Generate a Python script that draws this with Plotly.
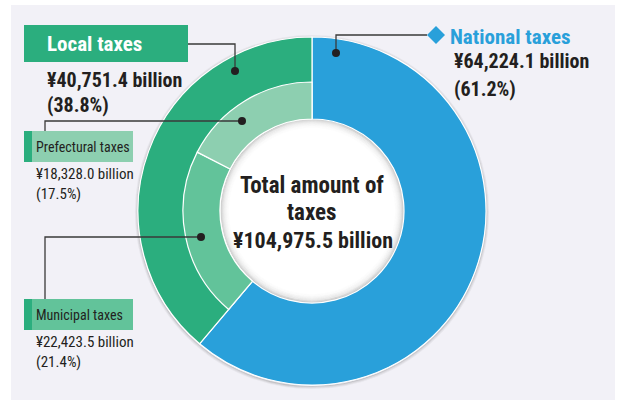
import plotly.graph_objects as go

# Tax revenue breakdown (billion yen)
national_name = "National taxes"
local_name = "Local taxes"
local_parts = ["Municipal taxes", "Prefectural taxes"]
center_lines = ["Total amount of", "taxes"]

national_value = 64224.1
local_value = 40751.4
local_part_values = [22423.5, 18328.0]
total_value = 104975.5

# Colours
BLUE = "#29a0da"
GREEN = "#2bae7e"
MUNI = "#62c39a"
PREF = "#8dcfb0"
PANEL = "#f2f1f7"
INK = "#231f20"
LINE = "#3a3a3a"

W, H = 617, 400
CX, CY = 312, 211          # donut centre (px)
R_OUT, R_MID, R_IN = 174, 129, 92

FONT = "Liberation Sans Narrow, Roboto Condensed, DejaVu Sans Condensed, Arial Narrow, sans-serif"


def money(v):
    return f"¥{v:,.1f} billion"


def pct(v):
    return f"({v / total_value * 100:.1f}%)"


def domain(r):
    return dict(x=[(CX - r) / W, (CX + r) / W], y=[1 - (CY + r) / H, 1 - (CY - r) / H])


fig = go.Figure()

# Outer ring: national taxes span the full ring width, local taxes sit on the outer band
fig.add_trace(go.Pie(
    values=[national_value, local_value],
    labels=[national_name, local_name],
    marker=dict(colors=[BLUE, GREEN], line=dict(color="white", width=1.2)),
    hole=R_IN / R_OUT, sort=False, direction="clockwise", rotation=0,
    textinfo="none", hoverinfo="skip", showlegend=False, domain=domain(R_OUT),
))

# Inner ring: breakdown of local taxes (national slot left transparent)
fig.add_trace(go.Pie(
    values=[national_value] + local_part_values,
    labels=[national_name] + local_parts,
    marker=dict(colors=["rgba(0,0,0,0)", MUNI, PREF],
                line=dict(color=["rgba(0,0,0,0)", "white", "white"], width=[0, 1.2, 1.2])),
    hole=R_IN / R_MID, sort=False, direction="clockwise", rotation=0,
    textinfo="none", hoverinfo="skip", showlegend=False, domain=domain(R_MID),
))

shapes = []
# panel background
shapes.append(dict(type="rect", x0=11, x1=615, y0=5, y1=400, fillcolor=PANEL, line_width=0, layer="below"))
# soft shadow around donut
for i, a in enumerate([0.22, 0.12, 0.06]):
    r = R_OUT + 0.5 + i
    shapes.append(dict(type="circle", x0=CX - r, x1=CX + r, y0=CY - r + 1, y1=CY + r + 1,
                       line=dict(color=f"rgba(60,60,60,{a})", width=1.2), layer="below"))
# white centre disk with inner shading
shapes.append(dict(type="circle", x0=CX - R_IN, x1=CX + R_IN, y0=CY - R_IN, y1=CY + R_IN,
                   fillcolor="white", line_width=0, layer="below"))
for i, a in enumerate([0.30, 0.22, 0.16, 0.11, 0.08, 0.055, 0.035, 0.02, 0.01]):
    r = R_IN - 0.5 - i
    shapes.append(dict(type="circle", x0=CX - r, x1=CX + r, y0=CY - r, y1=CY + r,
                       line=dict(color=f"rgba(90,90,90,{a})", width=1.2), layer="below"))

# label boxes
shapes.append(dict(type="rect", x0=24, x1=188, y0=25, y1=62, fillcolor=GREEN, line_width=0, layer="above"))
shapes.append(dict(type="rect", x0=24, x1=133, y0=131, y1=162, fillcolor=PREF, line_width=0, layer="above"))
shapes.append(dict(type="rect", x0=24, x1=32, y0=131, y1=162, fillcolor=GREEN, line_width=0, layer="above"))
shapes.append(dict(type="rect", x0=24, x1=133, y0=299, y1=330, fillcolor=MUNI, line_width=0, layer="above"))
shapes.append(dict(type="rect", x0=24, x1=32, y0=299, y1=330, fillcolor=GREEN, line_width=0, layer="above"))

# leader lines
leaders = [
    [(188, 44), (235, 44), (235, 71)],
    [(45, 131), (45, 121), (242, 121)],
    [(45, 299), (45, 237), (201, 237)],
    [(427, 35), (336, 35), (336, 53)],
]
for pts in leaders:
    path = "M " + " L ".join(f"{x},{y}" for x, y in pts)
    shapes.append(dict(type="path", path=path, line=dict(color=LINE, width=1.3), layer="above"))
for x, y in [(235, 71), (242, 121), (201, 237), (336, 53)]:
    shapes.append(dict(type="circle", x0=x - 4, x1=x + 4, y0=y - 4, y1=y + 4,
                       fillcolor=INK, line_width=0, layer="above"))
# blue diamond marker beside the national label
shapes.append(dict(type="path", path="M 436,26 L 445,35 L 436,44 L 427,35 Z",
                   fillcolor=BLUE, line_width=0, layer="above"))

ann = []


def text(x, y, s, size, color=INK, bold=False, xanchor="left", align="left"):
    ann.append(dict(x=x, y=y, xref="x", yref="y", text=f"<b>{s}</b>" if bold else s,
                    showarrow=False, xanchor=xanchor, yanchor="middle", align=align,
                    font=dict(family=FONT, size=size, color=color)))


text(45, 44, local_name, 21, "white", True)
text(45, 80, money(local_value), 20, INK, True)
text(45, 105, pct(local_value), 20, INK, True)

text(34, 147, local_parts[1], 14)
text(34, 174, money(local_part_values[1]), 15)
text(34, 194, pct(local_part_values[1]), 15)

text(34, 315, local_parts[0], 14)
text(34, 342, money(local_part_values[0]), 15)
text(34, 362, pct(local_part_values[0]), 15)

text(448, 37, national_name, 21, BLUE, True)
text(452, 61, money(national_value), 20, INK, True)
text(452, 89, pct(national_value), 20, INK, True)

text(CX, 185, center_lines[0], 23, INK, True, "center", "center")
text(CX, 212, center_lines[1], 23, INK, True, "center", "center")
text(CX + 1, 240, money(total_value), 22, INK, True, "center", "center")

fig.update_layout(
    width=W, height=H, margin=dict(l=0, r=0, t=0, b=0),
    paper_bgcolor="white", plot_bgcolor="rgba(0,0,0,0)",
    xaxis=dict(range=[0, W], visible=False, fixedrange=True),
    yaxis=dict(range=[H, 0], visible=False, fixedrange=True),
    shapes=shapes, annotations=ann,
)

fig.write_html("out.html", config={"displayModeBar": False})
